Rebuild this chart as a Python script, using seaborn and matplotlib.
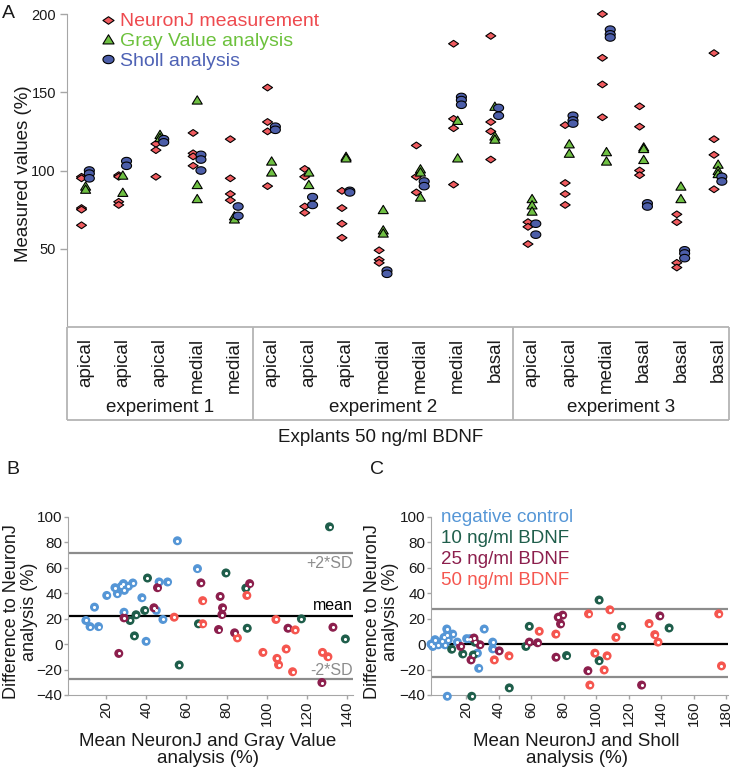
import numpy as np
import pandas as pd
import seaborn as sns
import matplotlib.pyplot as plt
from matplotlib.path import Path

sns.set_style("white")
plt.rcParams['font.family'] = ['Liberation Sans', 'DejaVu Sans']

# %% data - panel A (measured values per explant, 50 ng/ml BDNF)
regions = ["apical", "apical", "apical", "medial", "medial",
           "apical", "apical", "apical", "medial", "medial", "medial", "basal",
           "apical", "apical", "medial", "basal", "basal", "basal"]
experiments = ["experiment 1", "experiment 2", "experiment 3"]
exp_sizes = [5, 7, 6]

neuronj = [[96, 95, 76, 75, 65], [97, 96, 80, 78], [117, 113, 96],
           [124, 111, 109, 103], [120, 95, 85, 81], [153, 131, 125, 90],
           [101, 96, 77, 73], [87, 76, 66, 57], [49, 43, 41],
           [116, 96, 86], [181, 133, 127, 91], [186, 131, 125, 107],
           [67, 64, 53], [129, 92, 85, 78], [200, 172, 155, 134],
           [141, 128, 100, 97], [72, 67, 41, 38], [175, 120, 110, 88]]
gray_value = [[90, 88], [97, 86], [123, 121], [145, 91, 82], [71, 69],
              [106, 99], [99, 91], [109, 108], [75, 62, 60], [101, 99, 83],
              [132, 108], [141, 122, 120], [82, 78, 74], [117, 111],
              [112, 106], [115, 114, 107], [90, 82], [104, 100, 98]]
sholl = [[100, 98, 95], [106, 103], [120, 118], [110, 107, 100], [77, 71],
         [128, 126], [83, 78], [87, 86], [36, 34], [93, 90],
         [147, 145, 142], [140, 135], [66, 59], [135, 132, 130],
         [190, 187, 185], [79, 77], [49, 47, 44], [96, 93]]

methods = ["NeuronJ measurement", "Gray Value analysis", "Sholl analysis"]

# %% data - panel B (NeuronJ vs Gray Value, Bland-Altman)
groups = ["negative control", "10 ng/ml BDNF", "25 ng/ml BDNF", "50 ng/ml BDNF"]

b_neg_x = [9.9, 12.0, 14.2, 16.2, 20.3, 24.4, 25.6, 27.6, 28.6, 29.1, 31.1, 33.3,
           28.9, 37.8, 39.9, 45.0, 46.4, 48.3, 50.6, 55.5, 65.5]
b_neg_y = [18.6, 13.8, 29.1, 13.8, 38.3, 44.4, 39.7, 45.5, 47.6, 42.3, 45.5, 48.1,
           25.1, 36.5, 2.2, 26.5, 48.9, 19.4, 48.9, 81.3, 59.4]
b_10_x = [31.9, 34.1, 34.9, 39.2, 40.6, 56.4, 66.0, 79.7, 89.6, 90.3, 117.3, 131.3, 139.2]
b_10_y = [18.6, 6.5, 23.1, 26.5, 52.0, -16.4, 16.0, 56.0, 44.1, 12.5, 19.9, 92.3, 4.1]
b_25_x = [26.3, 28.9, 43.8, 45.6, 67.2, 76.0, 76.8, 77.7, 78.0, 84.0, 91.5, 110.6, 127.5, 133.0]
b_25_y = [-7.3, 20.7, 28.6, 44.4, 48.2, 11.5, 37.5, 23.3, 28.6, 8.9, 47.6, 12.5, -30.2, 13.3]
b_50_x = [53.9, 68.1, 68.1, 85.4, 90.1, 98.1, 104.6, 105.1, 105.9, 109.7, 112.9, 114.2, 127.8, 130.5]
b_50_y = [21.2, 34.2, 16.0, 4.9, 38.3, -6.5, 19.4, -11.2, -16.2, -3.8, -21.7, 11.2, -6.5, -9.9]
b_mean, b_upper, b_lower = 21.8, 71.3, -27.3

# %% data - panel C (NeuronJ vs Sholl, Bland-Altman)
c_neg_x = [-1.5, -0.4, 1.0, 3.0, 5.1, 6.5, 7.1, 8.2, 8.5, 9.1, 11.8, 14.7, 20.4,
           22.5, 27.0, 27.8, 31.2, 36.4, 36.4, 8.5]
c_neg_y = [0.0, -1.8, 3.5, -0.5, 2.1, 5.3, -0.5, 11.9, 7.5, 3.5, 7.9, 1.6, 4.3,
           4.3, -7.1, -19.0, 11.9, 1.6, -3.7, -41.0]
c_10_x = [11.2, 18.0, 24.5, 25.5, 23.5, 46.6, 56.8, 58.9, 81.8, 101.8, 101.8, 115.6, 144.8]
c_10_y = [-4.0, -7.7, -8.5, 1.5, -41.0, -34.4, -1.8, 14.0, -9.0, 34.7, -13.0, 14.0, 12.7]
c_25_x = [16.7, 23.1, 24.9, 28.6, 40.4, 58.9, 64.0, 75.3, 76.7, 78.1, 79.4, 94.9, 127.9, 139.1]
c_25_y = [-1.8, -12.4, 4.8, -0.5, -5.3, 1.6, 1.1, -10.3, 21.2, 15.9, 22.8, -20.9, -32.2, 22.2]
c_50_x = [37.4, 46.4, 65.0, 75.2, 95.3, 96.1, 99.2, 104.9, 106.7, 108.4, 112.1,
          132.5, 136.0, 138.0, 175.3, 177.0]
c_50_y = [-12.4, -9.2, 10.1, 7.9, 23.8, -32.2, -7.1, -20.3, -9.2, 27.0, 5.3,
          16.2, 7.5, 1.6, 23.8, -17.1]
c_mean, c_upper, c_lower = 0.5, 27.5, -26.0

# %% build long tables
rowsA = []
for name, vals in zip(methods, [neuronj, gray_value, sholl]):
    for i, cat_vals in enumerate(vals):
        for v in cat_vals:
            rowsA.append((i, name, v))
dfA = pd.DataFrame(rowsA, columns=["cat", "method", "value"])
offsets = {methods[0]: -0.11, methods[1]: 0.0, methods[2]: 0.1}
dfA["pos"] = dfA["cat"] + dfA["method"].map(offsets)


def long_table(xs, ys):
    parts = []
    for g, x, y in zip(groups, xs, ys):
        parts.append(pd.DataFrame({"x": x, "y": y, "group": g}))
    return pd.concat(parts, ignore_index=True)


dfB = long_table([b_neg_x, b_10_x, b_25_x, b_50_x], [b_neg_y, b_10_y, b_25_y, b_50_y])
dfC = long_table([c_neg_x, c_10_x, c_25_x, c_50_x], [c_neg_y, c_10_y, c_25_y, c_50_y])

# %% styles
W, H = 733, 776
fig = plt.figure(figsize=(W / 100, H / 100), dpi=100)

spine_col = "#a6a6a6"
txt_col = "#1a1a1a"

diamond = Path([(0, 0.68), (1, 0), (0, -0.68), (-1, 0), (0, 0.68)], closed=True)
triangle = Path([(-1, -0.8), (1, -0.8), (0, 0.85), (-1, -0.8)], closed=True)
t = np.linspace(0, 2 * np.pi, 41)
ellipse = Path(np.column_stack([np.cos(t), 0.75 * np.sin(t)]), closed=True)

palA = dict(zip(methods, ["#f05b5f", "#6fc043", "#4c5ea9"]))
legA_cols = ["#ee4a4f", "#6cc13c", "#4e62b5"]
markA = dict(zip(methods, [diamond, triangle, ellipse]))

palG = dict(zip(groups, ["#5596d6", "#1f5e4b", "#8c1f4d", "#f5564f"]))


def fax(l, t_, r, b):
    # axes from pixel box (left, top, right, bottom)
    return fig.add_axes([l / W, 1 - b / H, (r - l) / W, (b - t_) / H])


# %% panel A
axA = fax(67, 14, 733, 327)
sns.scatterplot(data=dfA, x="pos", y="value", hue="method", style="method",
                hue_order=methods, style_order=methods, palette=palA,
                markers=markA, s=52, edgecolor="black", linewidth=0.8,
                ax=axA, clip_on=False, zorder=3)
axA.set_xlim(-0.5, 17.4)
axA.set_ylim(0, 200)
axA.set_yticks([50, 100, 150, 200])
axA.set_xticks([])
axA.set_xlabel("")
axA.set_ylabel("Measured values (%)", fontsize=13.5, color=txt_col)
axA.yaxis.set_label_coords(-0.052, 0.49)
sns.despine(ax=axA, bottom=True)
axA.spines["left"].set_color(spine_col)
axA.tick_params(axis="y", left=True, length=5, width=1, color=spine_col,
                labelsize=10.5, labelcolor=txt_col, pad=3)

sns.move_legend(axA, "upper left", bbox_to_anchor=(0.051, 1.004), title=None,
                frameon=False, fontsize=14, handlelength=0.7,
                handletextpad=0.28, labelspacing=0.11, borderpad=0,
                borderaxespad=0)
legA = axA.get_legend()
for txt, c in zip(legA.get_texts(), legA_cols):
    txt.set_color(c)
for h in legA.legend_handles:
    h.set_markersize(8)
    h.set_markeredgewidth(0.8)
    h.set_markeredgecolor("black")

# category table under panel A
axT = fax(67, 327, 733, 420)
axT.set_xlim(axA.get_xlim())
axT.set_ylim(0, 1)
axT.axis("off")
right_edge = 17.3
tab_col = "#b4b4b4"
axT.hlines([0, 1], -0.5, right_edge, color=tab_col, lw=1.3, clip_on=False)
bounds = np.cumsum([0] + exp_sizes) - 0.5
bounds[-1] = right_edge
axT.vlines(bounds, 0, 1, color=tab_col, lw=1.3, clip_on=False)
for i, r in enumerate(regions):
    axT.text(i, 0.885, r, rotation=90, ha="center", va="top",
             fontsize=13.5, color=txt_col)
for k, e in enumerate(experiments):
    axT.text((bounds[k] + bounds[k + 1]) / 2, 0.13, e, ha="center",
             va="center", fontsize=13.5, color=txt_col)
fig.text(381 / W, 1 - 437 / H, "Explants 50 ng/ml BDNF", ha="center",
         va="center", fontsize=13.5, color=txt_col)


# %% panels B and C
def bland_altman(ax, df, mean, upper, lower, xlim, xlabel, legend):
    sns.scatterplot(data=df, x="x", y="y", hue="group", hue_order=groups,
                    palette=palG, s=42, edgecolor="none", ax=ax,
                    legend=legend, clip_on=False, zorder=3)
    sns.scatterplot(data=df, x="x", y="y", color="white", s=5, linewidth=0,
                    ax=ax, legend=False, clip_on=False, zorder=4)
    ax.axhline(upper, color="#8c8c8c", lw=1.6, zorder=1)
    ax.axhline(lower, color="#8c8c8c", lw=1.6, zorder=1)
    ax.axhline(mean, color="black", lw=1.6, zorder=1)
    ax.set_xlim(*xlim)
    ax.set_ylim(-40, 100)
    ax.set_yticks(np.arange(-40, 101, 20))
    ax.set_xticks(np.arange(20, xlim[1], 20))
    sns.despine(ax=ax)
    for s in ["left", "bottom"]:
        ax.spines[s].set_color(spine_col)
    ax.tick_params(left=True, bottom=True, length=3, width=1, color=spine_col,
                   labelsize=11, labelcolor=txt_col, pad=1)
    ax.tick_params(axis="x", labelrotation=90)
    ax.set_ylabel("Difference to NeuronJ\nanalysis (%)", fontsize=13,
                  color=txt_col, linespacing=1.1)
    ax.set_xlabel(xlabel, fontsize=13.5, color=txt_col, linespacing=1.0)
    ax.xaxis.set_label_coords(0.49, -0.215)


axB = fax(68, 517, 353, 695)
bland_altman(axB, dfB, b_mean, b_upper, b_lower, (1, 143),
             "Mean NeuronJ and Gray Value\nanalysis (%)", False)
axB.yaxis.set_label_coords(-0.104, 0.47)
axB.text(143, b_upper - 7.7, "+2*SD", ha="right", va="center",
         color="#8c8c8c", fontsize=11.5)
axB.text(143, b_mean + 8.6, "mean", ha="right", va="center",
         color="black", fontsize=11.5)
axB.text(143, b_lower + 6.3, "-2*SD", ha="right", va="center",
         color="#8c8c8c", fontsize=11.5)

axC = fax(431, 517, 728, 695)
bland_altman(axC, dfC, c_mean, c_upper, c_lower, (-1.5, 181),
             "Mean NeuronJ and Sholl\nanalysis (%)", True)
axC.yaxis.set_label_coords(-0.108, 0.47)
sns.move_legend(axC, "upper left", bbox_to_anchor=(0.034, 1.047), title=None,
                frameon=False, fontsize=13.5, handlelength=0, handletextpad=0,
                labelspacing=0.21, borderpad=0, borderaxespad=0)
legC = axC.get_legend()
for h in legC.legend_handles:
    h.set_visible(False)
for txt, g in zip(legC.get_texts(), groups):
    txt.set_color(palG[g])

# panel letters
for lab, x, y in [("A", 8.5, 14), ("B", 13, 470), ("C", 377, 470)]:
    fig.text(x / W, 1 - y / H, lab, ha="center", va="center", fontsize=14,
             color=txt_col)

fig.savefig("out.png", dpi=100)
